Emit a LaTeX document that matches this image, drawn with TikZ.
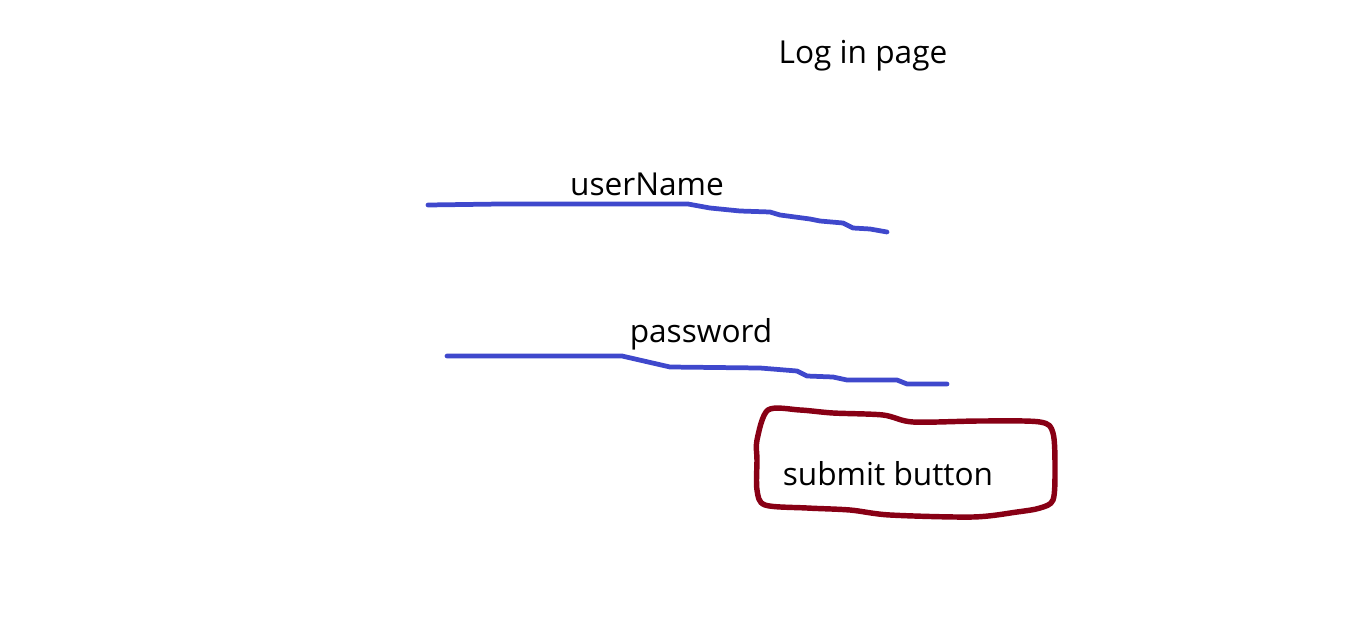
\documentclass[tikz,border=0pt]{standalone}
\usepackage{fontspec}
\setmainfont{Open Sans}
\usepackage{tikz}
\usetikzlibrary{positioning}
\definecolor{penblue}{RGB}{63,72,204}
\definecolor{penred}{RGB}{136,0,21}
\def\LabelSize{\fontsize{18pt}{21pt}\selectfont}

\begin{document}
\begin{tikzpicture}[x=0.02cm,y=-0.02cm,
	label text/.style={inner sep=0pt,font=\LabelSize,text=black},
	field line/.style={draw=penblue,line width=2.7pt,line cap=round,line join=round},
	button line/.style={draw=penred,line width=3.1pt,line cap=round,line join=round}]
	\useasboundingbox (0,0) rectangle (1350,629);
	% labels
	\node[label text] (title) at (863,56) {Log in page};
	\node[label text] (user) at (647,184) {userName};
	\node[label text] (pass) at (701,334) {password};
	\node[label text] (submit) at (888,474) {submit button};
	% 
	\coordinate (userA) at (428,205);
	\coordinate (userB) at (887,232);
	\coordinate (passA) at (447,356);
	\coordinate (passB) at (947,384);
	% hand drawn input lines
	\draw[field line] (userA) -- (500,204) -- (688,204) -- (710,208) -- (740,211)
		-- (770,212) -- (780,215) -- (810,219) -- (820,221) -- (843,223)
		-- (853,228) -- (870,229) -- (userB);
	\draw[field line] (passA) -- (622,356) -- (670,367) -- (760,368) -- (797,371)
		-- (807,376) -- (833,377) -- (847,380) -- (897,380) -- (907,384) -- (passB);
	% hand drawn button outline
	\draw[button line] plot[smooth cycle,tension=0.5] coordinates {
		(757,440) (768,410) (800,410) (833,413) (883,415) (913,422)
		(980,421) (1040,422) (1053,433) (1055,470) (1053,500) (1040,508)
		(1017,512) (973,517) (890,515) (850,510) (807,508) (765,505)
		(757,490) (757,460)};
\end{tikzpicture}
\end{document}
